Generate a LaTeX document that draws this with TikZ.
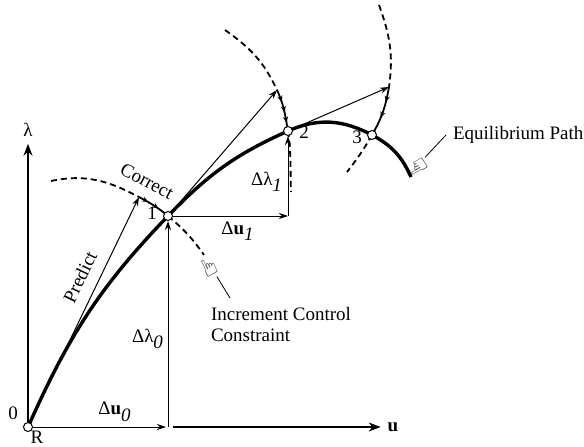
\documentclass[tikz,border=0pt]{standalone}
\usepackage{fontspec}
\setmainfont{Liberation Serif}
\newfontfamily\handfont{DejaVu Sans}
\usetikzlibrary{arrows.meta,decorations.markings,backgrounds}

\begin{document}
\begin{tikzpicture}[
    x=0.5pt, y=0.5pt,
    font=\fontsize{9.5}{10.5}\selectfont,
    eqpath/.style={line width=1.7pt},
    axis/.style={-{Stealth[length=6pt,width=4.5pt]}, line width=0.6pt},
    thinarrow/.style={-{Stealth[length=4.5pt,width=3pt]}, line width=0.5pt},
    constraint/.style={dash pattern=on 3pt off 2pt, line width=0.9pt},
    correction/.style={line width=0.9pt, postaction={decorate, decoration={markings,
        mark=between positions 0.3 and 0.8 step #1 with {\arrow{Stealth[length=3pt,width=2.6pt]}}}}},
    state/.style={circle, draw, fill=white, inner sep=0pt, minimum size=4.5pt, line width=0.5pt},
    hand/.style={font=\handfont\fontsize{12}{12}\selectfont, inner sep=0pt},
    leader/.style={line width=0.4pt}
]
    \useasboundingbox (0,0) rectangle (584,446);

    % States on the path
    \node[state] (r) at (28,19) {};
    \node[state] (n1) at (168,230) {};
    \node[state] (n2) at (288,315) {};
    \node[state] (n3) at (372,311) {};
    \coordinate (pe) at (411,269);

    % Predicted points and arc ends
    \coordinate (t1) at (139,249);
    \coordinate (t2) at (277,356);
    \coordinate (t3) at (389,359);
    \coordinate (a1s) at (51,265);
    \coordinate (a1e) at (204,191);
    \coordinate (a2s) at (225,416);
    \coordinate (a2e) at (291,254);
    \coordinate (a3s) at (379,441);
    \coordinate (a3e) at (347,274);

    % Corners of the increments
    \coordinate (c0) at (168,19);
    \coordinate (c1) at (288,230);
    \coordinate (ustart) at (173,19);

    % Axes
    \node (lam) at (28,316) {λ};
    \node (u) at (393,19) {\textbf{u}};

    % Labels
    \node at (13,33) {0};
    \node at (37,9) {R};
    \node at (152,233) {1};
    \node at (304,314) {2};
    \node at (357,309) {3};
    \node at (115,34) {Δ\textbf{u}$_{\textit{0}}$};
    \node at (148,107) {Δλ$_{\textit{0}}$};
    \node at (238,215) {Δ\textbf{u}$_{\textit{1}}$};
    \node at (267,264) {Δλ$_{\textit{1}}$};
    \node[rotate=64] at (80,169) {Predict};
    \node[rotate=-28] at (147,265) {Correct};
    \node[anchor=west] (eqlabel) at (446,311) {Equilibrium Path};
    \node[anchor=north west, align=left] (inclabel) at (204,146) {Increment Control\\Constraint};
    \coordinate (incleader) at (230,148);

    % Pointers
    \node[hand, rotate=209] (hand2) at (417,280) {☞};
    \node[hand, rotate=115] (hand1) at (211,179) {☞};
    \draw[leader] (eqlabel.west) -- (hand2);
    \draw[leader] (incleader) -- (hand1);

    \begin{scope}[on background layer]
        % Equilibrium path
        \draw[eqpath] (r.center) to[out=66,in=226] (n1.center) to[out=46,in=204] (n2.center)
            to[out=24,in=152] (n3.center) to[out=-28,in=114] (pe);

        % Axes and increments
        \draw[axis] (r) -- (lam);
        \draw[axis] (ustart) -- (u);
        \draw[thinarrow, shorten >=1pt] (r) -- (c0);
        \draw[thinarrow] (c0) -- (n1);
        \draw[thinarrow] (n1) -- (c1);
        \draw[thinarrow] (c1) -- (n2);

        % Predictors
        \draw[thinarrow] (r) -- (t1);
        \draw[thinarrow] (n1) -- (t2);
        \draw[thinarrow] (n2) -- (t3);

        % Constraint arcs and corrections
        \draw[constraint] (a1s) to[out=12,in=152] (t1);
        \draw[correction=0.35] (t1) to[out=-28,in=140] (n1.center);
        \draw[constraint] (n1.center) to[out=-40,in=125] (a1e);

        \draw[constraint] (a2s) to[out=-35,in=115] (t2);
        \draw[correction=0.25] (t2) to[out=-65,in=100] (n2.center);
        \draw[constraint] (n2.center) to[out=-82,in=92] (a2e);

        \draw[constraint] (a3s) to[out=-70,in=82] (t3);
        \draw[correction=0.32] (t3) to[out=-100,in=60] (n3.center);
        \draw[constraint] (n3.center) to[out=-120,in=52] (a3e);
    \end{scope}
\end{tikzpicture}
\end{document}
